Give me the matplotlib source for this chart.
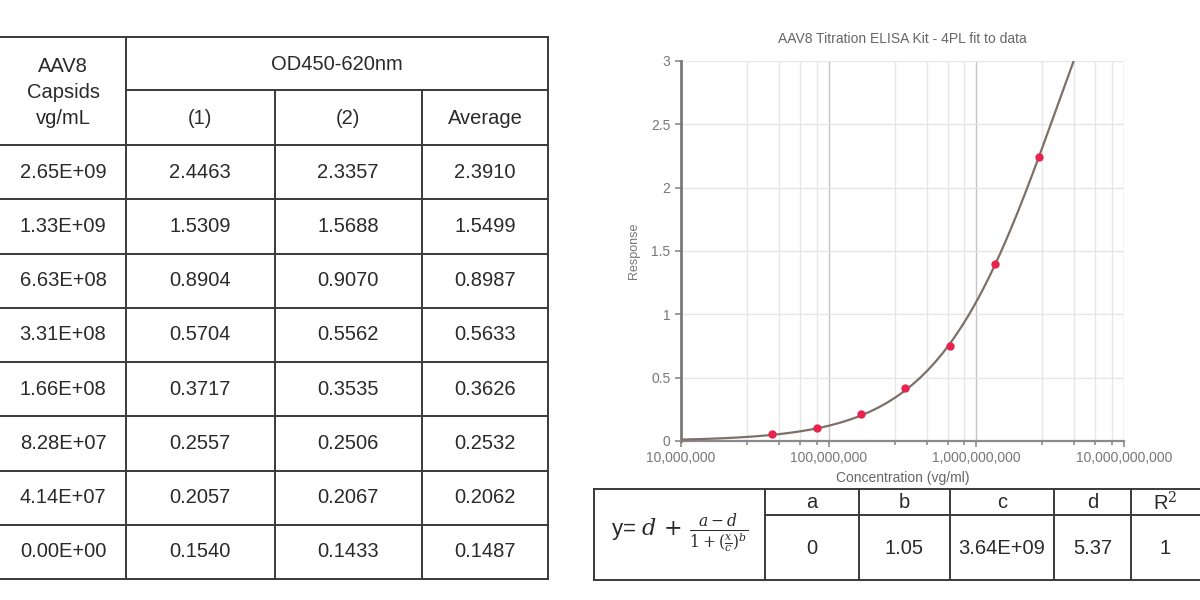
import numpy as np
import matplotlib
matplotlib.use("Agg")
import matplotlib.pyplot as plt
from matplotlib.lines import Line2D
from matplotlib.ticker import FixedLocator, FuncFormatter

plt.rcParams['font.family'] = ['Liberation Sans', 'DejaVu Sans']
plt.rcParams['mathtext.fontset'] = 'dejavuserif'

# ---------------- data ----------------
capsids = ["2.65E+09", "1.33E+09", "6.63E+08", "3.31E+08",
           "1.66E+08", "8.28E+07", "4.14E+07", "0.00E+00"]
od_rep1 = ["2.4463", "1.5309", "0.8904", "0.5704", "0.3717", "0.2557", "0.2057", "0.1540"]
od_rep2 = ["2.3357", "1.5688", "0.9070", "0.5562", "0.3535", "0.2506", "0.2067", "0.1433"]
od_avg = ["2.3910", "1.5499", "0.8987", "0.5633", "0.3626", "0.2532", "0.2062", "0.1487"]

conc = [4.14e7, 8.28e7, 1.66e8, 3.31e8, 6.63e8, 1.33e9, 2.65e9]
response = [0.0575, 0.1045, 0.2139, 0.4146, 0.7500, 1.4012, 2.2423]

fit_names = ["a", "b", "c", "d", "R$^2$"]
fit_labels = ["0", "1.05", "3.64E+09", "5.37", "1"]
fit_a, fit_b, fit_c, fit_d = 0.0, 1.05, 3.64e9, 5.37

x_major = [1e7, 1e8, 1e9, 1e10]
x_minor_mult = [2.8, 4.6, 6.4, 8.3]
y_ticks = [0, 0.5, 1, 1.5, 2, 2.5, 3]

# ---------------- figure ----------------
W, H = 1200, 600
fig = plt.figure(figsize=(12, 6), dpi=100)
fig.patch.set_facecolor("white")

def fx(px):
    return px / W

def fy(py):
    return 1 - py / H

LC = "#3a3a3a"
LW = 1.4
TC = "#2a2a2a"

def hline(y, x0, x1, lw=LW):
    fig.add_artist(Line2D([fx(x0), fx(x1)], [fy(y), fy(y)], color=LC, lw=lw))

def vline(x, y0, y1, lw=LW):
    fig.add_artist(Line2D([fx(x), fx(x)], [fy(y0), fy(y1)], color=LC, lw=lw))

def txt(x, y, s, size=15, **kw):
    fig.text(fx(x), fy(y), s, ha="center", va="center", fontsize=size, color=TC, **kw)

# ---------------- left table ----------------
top, mid, hdr = 37, 90, 145
row_h = (579 - 145) / 8
hline(top, 0, 548)
hline(mid, 126, 548)
for i in range(9):
    hline(hdr + i * row_h, 0, 548)
vline(126, top, 579)
vline(275, mid, 579)
vline(422, mid, 579)
vline(548, top, 579)

txt(63, 67, "AAV8", size=14.5)
txt(63, 93, "Capsids", size=14.5)
txt(63, 119, "vg/mL", size=14.5)
txt(337, 65, "OD450-620nm", size=14.5)
txt(200, 119, "(1)", size=14.5)
txt(348, 119, "(2)", size=14.5)
txt(485, 119, "Average", size=14.5)
centers = [63, 200, 348, 485]
for i in range(8):
    yc = hdr + (i + 0.5) * row_h
    for cx, col in zip(centers, [capsids, od_rep1, od_rep2, od_avg]):
        txt(cx, yc, col[i], size=14.5)

# ---------------- plot ----------------
ax = fig.add_axes([fx(681), fy(441), fx(1124) - fx(681), (441 - 61) / H])
xx = np.logspace(7, 10, 600)
yy = fit_d + (fit_a - fit_d) / (1 + (xx / fit_c) ** fit_b)
ax.plot(xx, yy, color="#7d7068", lw=1.6, zorder=3)
ax.scatter(conc, response, s=36, color="#e8234d", zorder=4, linewidths=0)
ax.set_xscale("log")
ax.set_xlim(1e7, 1e10)
ax.set_ylim(0, 3)
ax.xaxis.set_major_locator(FixedLocator(x_major))
minors = [m * d for d in x_major[:-1] for m in x_minor_mult]
ax.xaxis.set_minor_locator(FixedLocator(minors))
ax.xaxis.set_major_formatter(FuncFormatter(lambda v, p: f"{int(round(v)):,}"))
ax.xaxis.set_minor_formatter(FuncFormatter(lambda v, p: ""))
ax.set_yticks(y_ticks)
ax.set_yticklabels(["0", "0.5", "1", "1.5", "2", "2.5", "3"])
ax.grid(which="major", axis="x", color="#c4c4c4", lw=1.0)
ax.grid(which="minor", axis="x", color="#e6e6e6", lw=1.0)
ax.grid(which="major", axis="y", color="#e6e6e6", lw=1.0)
ax.set_axisbelow(True)
for s in ["top", "right"]:
    ax.spines[s].set_visible(False)
ax.spines["left"].set_color("#7a7a7a")
ax.spines["left"].set_linewidth(2.0)
ax.spines["bottom"].set_color("#8a8a8a")
ax.spines["bottom"].set_linewidth(1.6)
ax.tick_params(which="both", colors="#8a8a8a", labelcolor="#777777", labelsize=10,
               length=4, width=1.2, direction="out")
ax.tick_params(which="minor", length=3)
ax.set_title("AAV8 Titration ELISA Kit - 4PL fit to data", fontsize=10, color="#666666", pad=13)
ax.set_xlabel("Concentration (vg/ml)", fontsize=10, color="#666666", labelpad=4)
ax.set_ylabel("Response", fontsize=9, color="#777777", labelpad=8)

# ---------------- bottom-right table ----------------
bt, bm, bb = 489, 515, 580
bcols = [594, 765, 859, 950, 1054, 1131, 1200]
hline(bt, 594, 1200)
hline(bb, 594, 1200)
hline(bm, 765, 1200)
for x in bcols[:-1]:
    vline(x, bt, bb)
for i, (nm, lab) in enumerate(zip(fit_names, fit_labels)):
    cx = (bcols[i + 1] + bcols[i + 2]) / 2 if i < 4 else 1165
    txt(cx, (bt + bm) / 2 + 1, nm, size=14.5)
    txt(cx, (bm + bb) / 2 + 1, lab, size=14.5)
txt(680, 533, r"y= $d\,+\,\frac{a-d}{1+(\frac{x}{c})^{b}}$", size=16)

fig.savefig("out.png", dpi=100, facecolor="white")
